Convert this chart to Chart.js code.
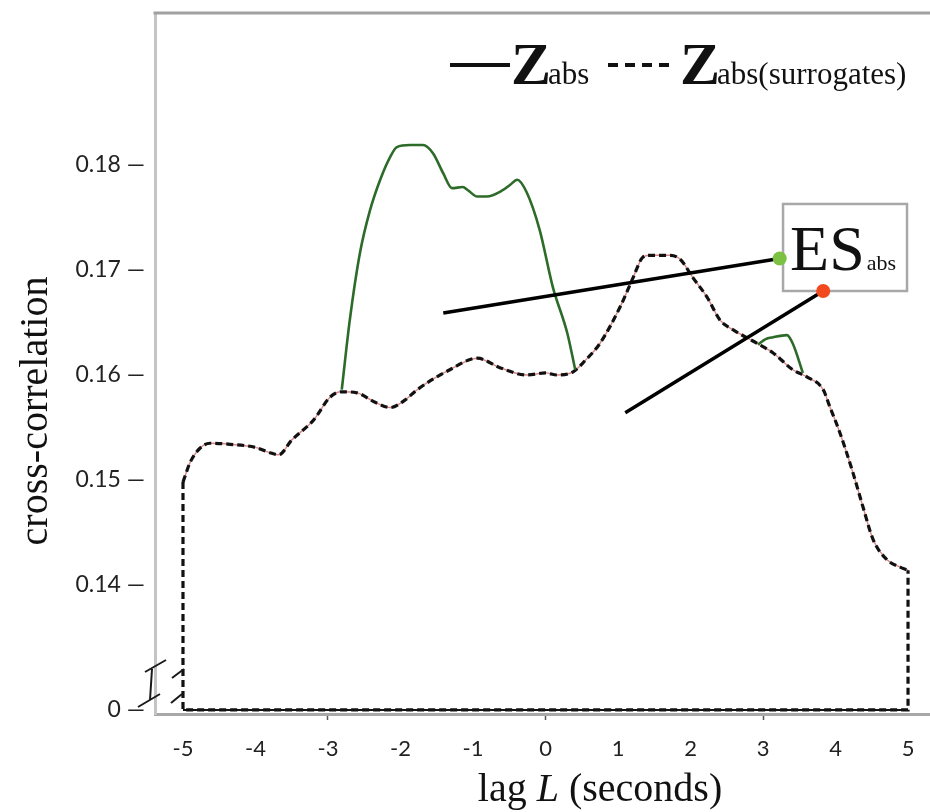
<!DOCTYPE html>
<html>
<head>
<meta charset="utf-8">
<script src="https://cdn.jsdelivr.net/npm/chart.js@4/dist/chart.umd.min.js"></script>
<style>
  html, body { margin: 0; padding: 0; background: #ffffff; }
  #wrap { width: 930px; height: 812px; position: relative; }
</style>
</head>
<body>
<div id="wrap"><canvas id="cc" width="930" height="812"></canvas></div>
<script>
// Lag (seconds) and cross-correlation of the surrogate average
const lagSurr = [-5.00, -4.90, -4.77, -4.63, -4.35, -4.00, -3.80, -3.68, -3.50, -3.20,
                 -2.97, -2.81, -2.60, -2.35, -2.14, -1.94, -1.77, -1.32, -0.94, -0.63,
                 -0.26, 0.00, 0.16, 0.38, 0.55, 0.75, 1.03, 1.21, 1.34, 1.44,
                 1.72, 1.86, 2.03, 2.23, 2.41, 2.59, 2.92, 3.14, 3.41, 3.61,
                 3.83, 3.92, 4.06, 4.24, 4.38, 4.52, 4.71, 4.89, 5.00];
const zSurr   = [0.1498, 0.1517, 0.1530, 0.1535, 0.1534, 0.1531, 0.1526, 0.1524, 0.1538, 0.1557,
                 0.1579, 0.1584, 0.1583, 0.1574, 0.1569, 0.1576, 0.1586, 0.1605, 0.1616, 0.1607,
                 0.1600, 0.1602, 0.1600, 0.1603, 0.1614, 0.1630, 0.1665, 0.1693, 0.1712, 0.1714,
                 0.1714, 0.1710, 0.1693, 0.1674, 0.1652, 0.1643, 0.1630, 0.1621, 0.1605, 0.1598,
                 0.1586, 0.1570, 0.1545, 0.1507, 0.1474, 0.1443, 0.1424, 0.1417, 0.1414];

// Z_abs where it rises above the surrogates
const lagPeakA  = [-2.81, -2.70, -2.56, -2.42, -2.28, -2.14, -2.05, -1.87, -1.69, -1.55, -1.41,
                   -1.29, -1.14, -1.07, -0.94, -0.81, -0.59, -0.49, -0.39, -0.26, -0.08,
                   0.10, 0.30, 0.41];
const zAbsPeakA = [0.1586, 0.1652, 0.1716, 0.1757, 0.1786, 0.1808, 0.1817, 0.1819, 0.1819, 0.1811, 0.1792,
                   0.1778, 0.1779, 0.1776, 0.1770, 0.1770, 0.1776, 0.1781, 0.1786, 0.1774, 0.1738,
                   0.1684, 0.1640, 0.1605];
const lagPeakB  = [2.93, 3.03, 3.14, 3.33, 3.41, 3.55];
const zAbsPeakB = [0.1629, 0.1634, 0.1636, 0.1638, 0.1630, 0.1602];

// Floor of both curves at the window edges
const edgeLag = [-5, 5];
const edgeZ   = [0, 0];

// Pointer lines to the ES_abs label
const esLagA = [-1.41, 3.23];
const esZA   = [0.1659, 0.1711];
const esLagB = [1.10, 3.83];
const esZB   = [0.1564, 0.1680];

// Tick values
const xTicks = [-5, -4, -3, -2, -1, 0, 1, 2, 3, 4, 5];
const xMarked = [-3, 0, 3];
const yTicks = [0, 0.14, 0.15, 0.16, 0.17, 0.18];

const pts = (xs, ys) => xs.map((x, i) => ({ x: x, y: ys[i] }));

// y axis with a break: everything below BREAK_AT is squeezed into a thin strip
const BREAK_AT = 0.135;
const STRIP_TOP = 0.1281;
function squeeze(v) { return v >= BREAK_AT ? v : STRIP_TOP + v * (BREAK_AT - STRIP_TOP) / BREAK_AT; }
function unsqueeze(t) { return t >= BREAK_AT ? t : (t - STRIP_TOP) * BREAK_AT / (BREAK_AT - STRIP_TOP); }

class BrokenLinearScale extends Chart.LinearScale {
  getPixelForValue(value) {
    return value === null || value === undefined ? NaN : super.getPixelForValue(squeeze(value));
  }
  getValueForPixel(pixel) { return unsqueeze(super.getValueForPixel(pixel)); }
}
BrokenLinearScale.id = 'brokenLinear';
BrokenLinearScale.defaults = Chart.LinearScale.defaults;
Chart.register(BrokenLinearScale);

const SERIF = '"Liberation Serif", "DejaVu Serif", serif';
const SANS = 'Lato, "Open Sans", sans-serif';

const decor = {
  id: 'decor',
  beforeDatasetsDraw(chart) {
    const { ctx, scales: { x, y } } = chart;
    // ES_abs label box
    const x0 = x.getPixelForValue(3.276), x1 = x.getPixelForValue(4.986);
    const y0 = y.getPixelForValue(0.17629), y1 = y.getPixelForValue(0.1680);
    ctx.save();
    ctx.fillStyle = '#ffffff';
    ctx.fillRect(x0, y0, x1 - x0, y1 - y0);
    ctx.strokeStyle = '#a8a8a8';
    ctx.lineWidth = 2.5;
    ctx.strokeRect(x0, y0, x1 - x0, y1 - y0);
    ctx.fillStyle = '#111111';
    ctx.textBaseline = 'alphabetic';
    ctx.font = '64px ' + SERIF;
    ctx.fillText('ES', x0 + 7, y1 - 21);
    const w = ctx.measureText('ES').width;
    ctx.font = '22px ' + SERIF;
    ctx.fillText('abs', x0 + 9 + w, y1 - 21);
    ctx.restore();
  },
  afterDraw(chart) {
    const { ctx, chartArea: a, scales: { x, y } } = chart;
    ctx.save();
    // top frame line
    ctx.strokeStyle = '#a0a0a0';
    ctx.lineWidth = 3;
    ctx.beginPath();
    ctx.moveTo(a.left - 1.5, a.top);
    ctx.lineTo(a.right, a.top);
    ctx.stroke();

    // axis break marks
    ctx.strokeStyle = '#1a1a1a';
    ctx.lineWidth = 2;
    const ax = a.left;
    ctx.beginPath();
    ctx.moveTo(ax - 10, 672); ctx.lineTo(ax + 11, 660);
    ctx.moveTo(ax - 17, 707); ctx.lineTo(ax + 5, 694);
    ctx.moveTo(ax - 3, 669); ctx.lineTo(ax - 5, 700);
    const cx = x.getPixelForValue(-5);
    ctx.moveTo(cx - 11, 678); ctx.lineTo(cx + 1, 669);
    ctx.moveTo(cx - 12, 703); ctx.lineTo(cx - 1, 694);
    ctx.stroke();

    // legend
    ctx.fillStyle = '#111111';
    ctx.strokeStyle = '#111111';
    ctx.lineWidth = 4;
    ctx.beginPath();
    ctx.moveTo(450, 65); ctx.lineTo(510, 65);
    ctx.stroke();
    ctx.textBaseline = 'alphabetic';
    ctx.font = 'bold 60px ' + SERIF;
    ctx.fillText('Z', 511, 84);
    let zw = ctx.measureText('Z').width;
    ctx.font = '31px ' + SERIF;
    ctx.fillText('abs', 511 + zw - 3, 84);
    ctx.setLineDash([10, 7]);
    ctx.beginPath();
    ctx.moveTo(608, 65); ctx.lineTo(672, 65);
    ctx.stroke();
    ctx.setLineDash([]);
    ctx.font = 'bold 60px ' + SERIF;
    ctx.fillText('Z', 680, 84);
    zw = ctx.measureText('Z').width;
    ctx.font = '31px ' + SERIF;
    ctx.fillText('abs(surrogates)', 680 + zw - 3, 84);

    // axis titles
    ctx.font = '40px ' + SERIF;
    const t1 = 'lag ', t3 = ' (seconds)';
    const w1 = ctx.measureText(t1).width, w3 = ctx.measureText(t3).width;
    ctx.font = 'italic 40px ' + SERIF;
    const w2 = ctx.measureText('L').width;
    let tx = 600 - (w1 + w2 + w3) / 2;
    ctx.font = '40px ' + SERIF;
    ctx.fillText(t1, tx, 801);
    ctx.font = 'italic 40px ' + SERIF;
    ctx.fillText('L', tx + w1, 801);
    ctx.font = '40px ' + SERIF;
    ctx.fillText(t3, tx + w1 + w2, 801);

    ctx.translate(47, 411);
    ctx.rotate(-Math.PI / 2);
    ctx.textAlign = 'center';
    ctx.fillText('cross-correlation', 0, 0);
    ctx.restore();
  }
};

new Chart(document.getElementById('cc'), {
  type: 'line',
  data: {
    datasets: [
      { // Z_abs under the surrogates (thin trace)
        data: pts(lagSurr, zSurr),
        borderColor: 'rgba(214,120,120,0.9)', borderWidth: 1.4,
        pointRadius: 0, cubicInterpolationMode: 'monotone', order: 5
      },
      { // floor of Z_abs
        data: pts(edgeLag, edgeZ),
        borderColor: '#111111', borderWidth: 2,
        pointRadius: 0, tension: 0, order: 4
      },
      { // Z_abs(surrogates)
        data: pts(lagSurr, zSurr),
        borderColor: '#111111', borderWidth: 3.2, borderDash: [7, 4],
        pointRadius: 0, cubicInterpolationMode: 'monotone', order: 3
      },
      { // Z_abs(surrogates) down to the floor at both edges
        data: [{ x: lagSurr[0], y: zSurr[0] }].concat(
                pts(edgeLag, edgeZ),
                [{ x: lagSurr[lagSurr.length - 1], y: zSurr[zSurr.length - 1] }]),
        borderColor: '#111111', borderWidth: 3.2, borderDash: [7, 4],
        pointRadius: 0, tension: 0, order: 3
      },
      {
        data: pts(lagPeakA, zAbsPeakA),
        borderColor: '#2d6b29', borderWidth: 2.6,
        pointRadius: 0, cubicInterpolationMode: 'monotone', order: 2
      },
      {
        data: pts(lagPeakB, zAbsPeakB),
        borderColor: '#2d6b29', borderWidth: 2.6,
        pointRadius: 0, cubicInterpolationMode: 'monotone', order: 2
      },
      {
        data: pts(esLagA, esZA),
        borderColor: '#000000', borderWidth: 3.5, tension: 0,
        pointRadius: [0, 7], pointBorderWidth: 0, pointBackgroundColor: '#7cc142', order: 1
      },
      {
        data: pts(esLagB, esZB),
        borderColor: '#000000', borderWidth: 3.5, tension: 0,
        pointRadius: [0, 7], pointBorderWidth: 0, pointBackgroundColor: '#f2491f', order: 1
      }
    ]
  },
  options: {
    responsive: false,
    animation: false,
    layout: { autoPadding: false, padding: { top: 13, right: 0, bottom: 0, left: 0 } },
    plugins: { legend: { display: false }, tooltip: { enabled: false } },
    scales: {
      x: {
        type: 'linear',
        min: -5.386, max: 5.303,
        afterBuildTicks: s => { s.ticks = xTicks.map(v => ({ value: v })); },
        afterFit: s => { s.height = 98; s.paddingLeft = 0; s.paddingRight = 0; },
        border: { display: true, color: '#a8a8a8', width: 3 },
        grid: {
          drawOnChartArea: false, drawTicks: true, tickLength: 6, tickWidth: 1.5,
          tickColor: c => (c.tick && xMarked.includes(c.tick.value)) ? '#555555' : 'rgba(0,0,0,0)'
        },
        ticks: {
          padding: 16, color: '#222222', autoSkip: false, maxRotation: 0,
          font: { family: SANS, size: 22 },
          callback: v => String(v)
        }
      },
      y: {
        type: 'brokenLinear',
        min: 0.12771, max: 0.19448,
        afterBuildTicks: s => { s.ticks = yTicks.map(v => ({ value: v })); },
        afterFit: s => { s.width = 155; s.paddingTop = 0; s.paddingBottom = 0; },
        border: { display: true, color: '#c4c4c4', width: 3 },
        grid: { drawOnChartArea: false, drawTicks: false },
        ticks: {
          padding: 10, color: '#222222', autoSkip: false,
          font: { family: SANS, size: 23 },
          callback: v => (v === 0 ? '0' : v.toFixed(2)) + ' \u2014'
        }
      }
    }
  },
  plugins: [decor]
});
</script>
</body>
</html>
